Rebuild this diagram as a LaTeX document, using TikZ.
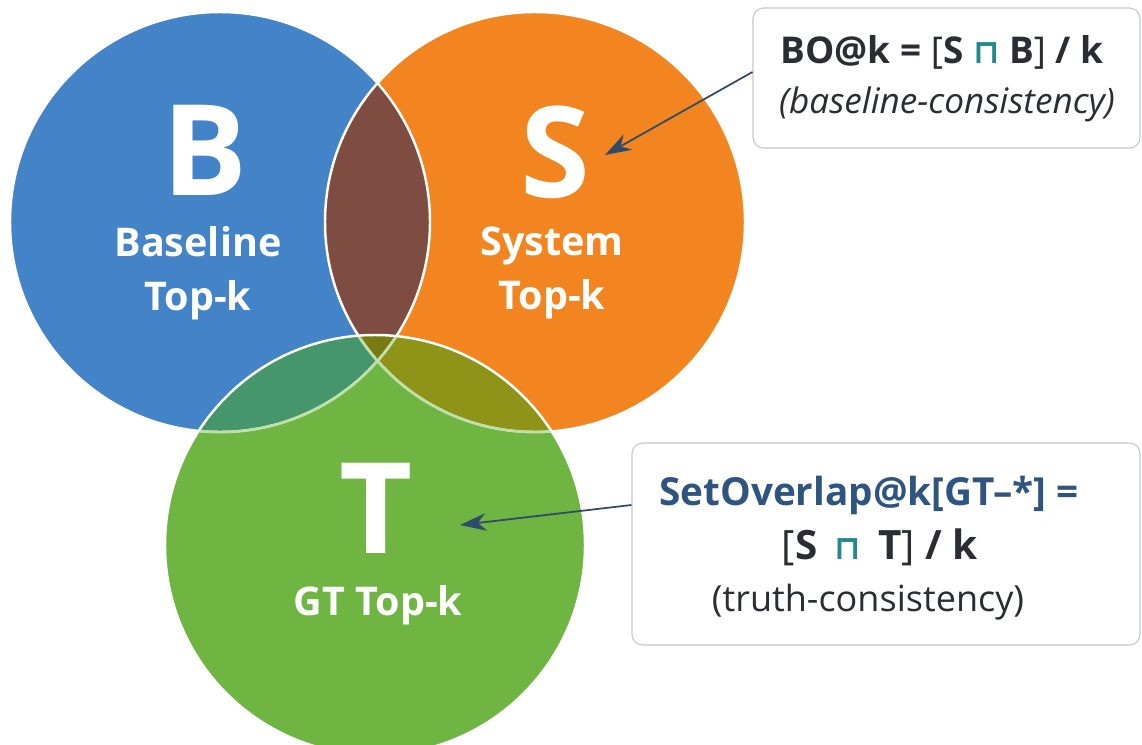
\documentclass[tikz,border=0pt]{standalone}
\usepackage{fontspec}
\setmainfont{Open Sans}
\newfontfamily\symfont{DejaVu Sans}
\usetikzlibrary{arrows.meta}

\definecolor{baseblue}{HTML}{4384C9}
\definecolor{sysorange}{HTML}{F2851F}
\definecolor{gtgreen}{HTML}{6FB541}
\definecolor{bsbrown}{HTML}{7E4C41}
\definecolor{btteal}{HTML}{45966A}
\definecolor{stolive}{HTML}{8E9418}
\definecolor{bstolive}{HTML}{7A7A12}
\definecolor{boxgray}{HTML}{C4C7CC}
\definecolor{textdark}{HTML}{2A2D33}
\definecolor{formblue}{HTML}{2E5580}
\definecolor{arrownavy}{HTML}{2F4A6A}
\definecolor{capteal}{HTML}{1E8A8C}

\newcommand{\capsym}{{\symfont\bfseries\color{capteal}\fontsize{19}{19}\selectfont ⊓}}

\tikzset{
  bigletter/.style={text=white, font=\bfseries\fontsize{72}{72}\selectfont},
  setlabel/.style={text=white, align=center, font=\bfseries\fontsize{22.5}{31}\selectfont},
  formbox/.style={draw=boxgray, line width=0.6pt, rounded corners=6pt, fill=white, align=center},
  callout/.style={arrownavy, line width=1pt, -{Stealth[length=15pt, width=10pt]}}
}

\begin{document}
\begin{tikzpicture}[x=0.02cm, y=-0.02cm]
  \useasboundingbox (0,0) rectangle (1142,744);

  % centres of the three sets
  \coordinate (cB) at (220,222);
  \coordinate (cS) at (535,222);
  \coordinate (cT) at (375,545);

  % Draw the three sets
  \fill[baseblue] (cB) circle [radius=210];
  \fill[sysorange] (cS) circle [radius=210];
  \fill[gtgreen] (cT) circle [radius=210];

  % overlaps
  \begin{scope}
    \clip (cB) circle [radius=210];
    \fill[bsbrown] (cS) circle [radius=210];
    \fill[btteal] (cT) circle [radius=210];
  \end{scope}
  \begin{scope}
    \clip (cS) circle [radius=210];
    \fill[stolive] (cT) circle [radius=210];
  \end{scope}
  \begin{scope}
    \clip (cB) circle [radius=210];
    \clip (cS) circle [radius=210];
    \fill[bstolive] (cT) circle [radius=210];
  \end{scope}

  % white outlines
  \draw[white, line width=1.4pt] (cB) circle [radius=210];
  \draw[white, line width=1.4pt] (cS) circle [radius=210];
  \draw[white, line width=1.4pt] (cT) circle [radius=210];
  \begin{scope}
    \clip (cT) circle [radius=209];
    \draw[gtgreen!45!white, line width=1.4pt] (cB) circle [radius=210];
    \draw[gtgreen!45!white, line width=1.4pt] (cS) circle [radius=210];
  \end{scope}

  % set letters and names
  \node[bigletter] (letB) at (205,150) {B};
  \node[setlabel] (nameB) at (198,273) {Baseline\\Top-k};
  \node[bigletter] (letS) at (555,152) {S};
  \node[setlabel] (nameS) at (552,273) {System\\Top-k};
  \node[bigletter] (letT) at (376,508) {T};
  \node[setlabel] (nameT) at (378,605) {GT Top-k};

  % formula boxes
  \node[formbox, minimum width=387*0.02cm, minimum height=140*0.02cm] (boxBO) at (946.5,78) {};
  \node[text=textdark, font=\bfseries\fontsize{21}{21}\selectfont] (formBO) at (942,52)
    {BO@k = {\mdseries[}S \capsym{} B{\mdseries]} / k};
  \node[text=textdark, font=\itshape\fontsize{20}{20}\selectfont] (noteBO) at (947,104)
    {(baseline-consistency)};

  \node[formbox, minimum width=508*0.02cm, minimum height=202*0.02cm] (boxSO) at (886,544) {};
  \node[text=formblue, font=\bfseries\fontsize{22}{22}\selectfont] (formSO) at (869,495)
    {SetOverlap@k[GT–*] =};
  \node[text=textdark, font=\bfseries\fontsize{23}{23}\selectfont] (formST) at (880,547)
    {{\mdseries[}S\, \capsym{}\, T{\mdseries]} / k};
  \node[text=textdark, font=\fontsize{20.5}{20.5}\selectfont] (noteSO) at (868,602)
    {(truth-consistency)};

  % arrows from the boxes
  \coordinate (tipS) at (605,155);
  \coordinate (tipT) at (460,525);
  \draw[callout] (boxBO.west |- 0,72) -- (tipS);
  \draw[callout] (boxSO.west |- 0,505) -- (tipT);
\end{tikzpicture}
\end{document}
